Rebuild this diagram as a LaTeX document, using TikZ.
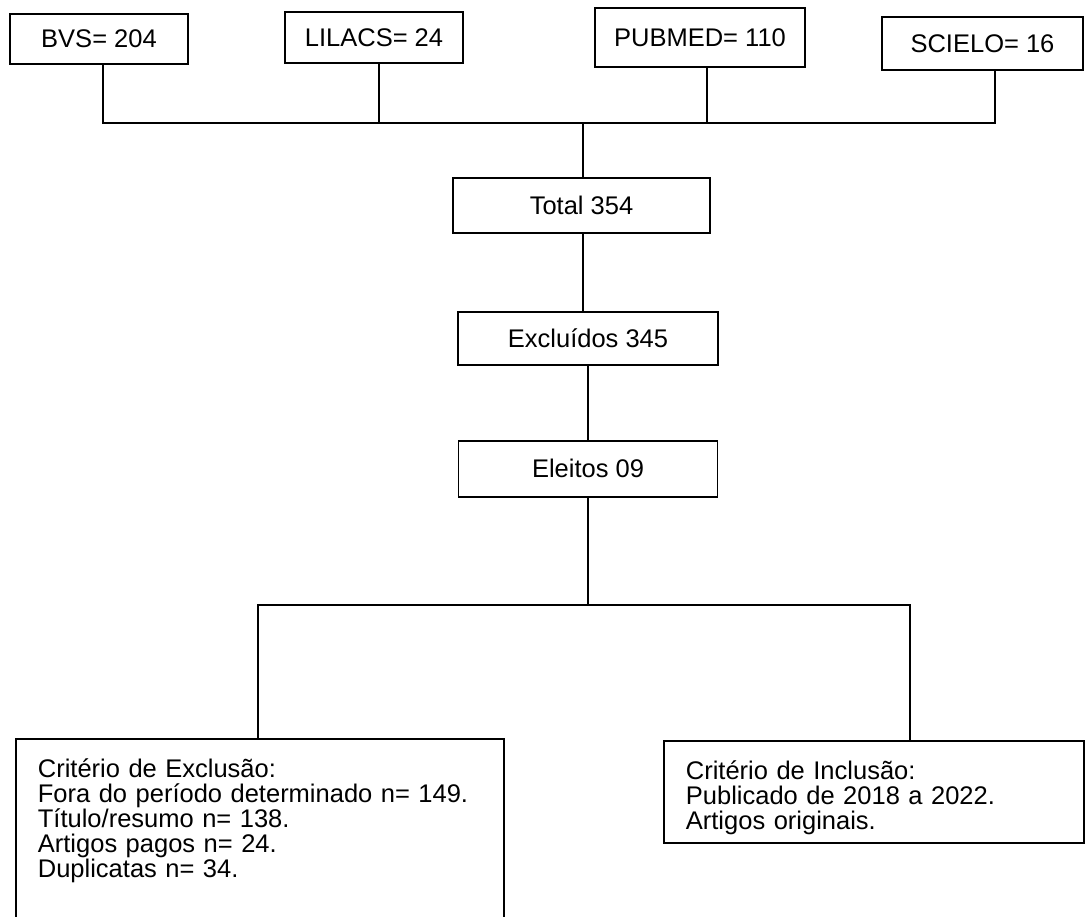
\documentclass[tikz,border=0pt]{standalone}
\usepackage{fontspec}
\setmainfont{Liberation Sans}
\usetikzlibrary{positioning}

\begin{document}
\begin{tikzpicture}[x=1pt, y=-1pt, line width=1.8pt,
    caixa/.style={draw, inner sep=0pt, font=\fontsize{25.5}{24.8}\selectfont},
    criterio/.style={caixa, anchor=north west, align=left, inner xsep=22pt, inner ysep=14pt, text height=25pt}]
  \useasboundingbox (0,0) rectangle (1087,917);

  % Define nodes
  \node[caixa, minimum width=178pt, minimum height=50pt] (bvs)    at (99,39)     {BVS= 204};
  \node[caixa, minimum width=178pt, minimum height=51pt] (lilacs) at (374,37.5)  {LILACS= 24};
  \node[caixa, minimum width=210pt, minimum height=59pt] (pubmed) at (700,37.5)  {PUBMED= 110};
  \node[caixa, minimum width=201pt, minimum height=53pt] (scielo) at (982.5,43.5) {SCIELO= 16};

  \node[caixa, minimum width=257pt, minimum height=55pt] (total) at (581.5,205.5) {Total 354};
  \node[caixa, minimum width=260pt, minimum height=53pt, below=77pt of total, xshift=6.5pt] (excluidos) {Excluídos 345};
  \node[caixa, minimum width=259pt, minimum height=56pt, below=74pt of excluidos] (eleitos) {Eleitos 09};

  \node[criterio, text width=444pt, text depth=200pt] (exclusao) at (15,738)
    {Critério de Exclusão:\\Fora do período determinado n= 149.\\Título/resumo n= 138.\\Artigos pagos n= 24.\\Duplicatas n= 34.};
  \node[criterio, text width=376pt, text depth=49pt] (inclusao) at (663,740)
    {Critério de Inclusão:\\Publicado de 2018 a 2022.\\Artigos originais.};

  % Connect the nodes
  \coordinate (j1) at (103,123);
  \coordinate (j2) at (379,123);
  \coordinate (j3) at (707,123);
  \coordinate (j4) at (995,123);
  \coordinate (j0) at (583,123);
  \draw (bvs.south -| j1) -- (j1) -- (j4) -- (scielo.south -| j4);
  \draw (lilacs.south -| j2) -- (j2);
  \draw (pubmed.south -| j3) -- (j3);
  \draw (j0) -- (total.north -| j0);
  \draw (total.south -| j0) -- (excluidos.north -| j0);
  \draw (excluidos.south) -- (eleitos.north);

  \coordinate (k1) at (258,605);
  \coordinate (k2) at (910,605);
  \draw (eleitos.south) -- (eleitos.south |- k1);
  \draw (exclusao.north -| k1) -- (k1) -- (k2) -- (inclusao.north -| k2);
\end{tikzpicture}
\end{document}
